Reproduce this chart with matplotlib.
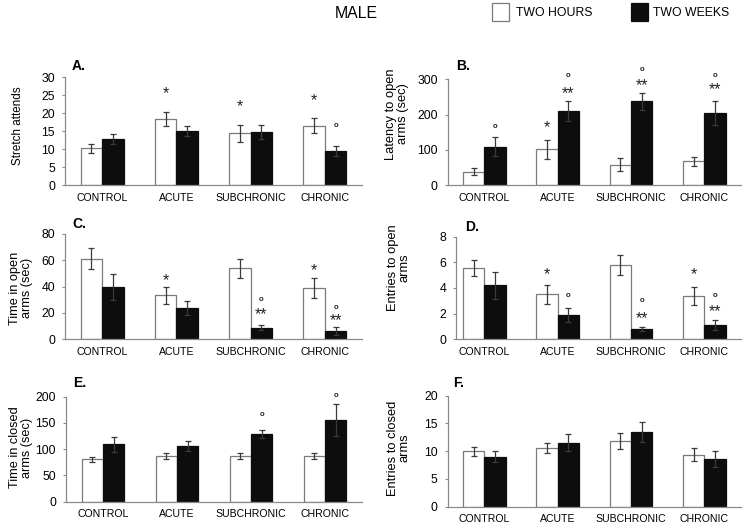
import matplotlib
matplotlib.use("Agg")
import matplotlib.pyplot as plt
from matplotlib.patches import Rectangle
import numpy as np

plt.rcParams['font.family'] = ['Liberation Sans', 'DejaVu Sans']

categories = ["CONTROL", "ACUTE", "SUBCHRONIC", "CHRONIC"]
series_names = ["TWO HOURS", "TWO WEEKS"]

# Panel A: Stretch attends
a_hours = [10.2, 18.4, 14.4, 16.6]
a_hours_err = [1.2, 1.9, 2.3, 2.0]
a_weeks = [12.8, 15.1, 14.8, 9.6]
a_weeks_err = [1.4, 1.5, 1.9, 1.4]
# Panel B: Latency to open arms
b_hours = [37, 101, 58, 67]
b_hours_err = [10, 28, 18, 12]
b_weeks = [109, 211, 237, 203]
b_weeks_err = [26, 28, 25, 34]
# Panel C: Time in open arms
c_hours = [61.3, 33.4, 53.9, 39.0]
c_hours_err = [7.8, 6.6, 7.1, 7.3]
c_weeks = [39.7, 23.8, 8.9, 6.6]
c_weeks_err = [9.6, 5.6, 2.0, 3.0]
# Panel D: Entries to open arms
d_hours = [5.58, 3.51, 5.77, 3.38]
d_hours_err = [0.62, 0.73, 0.78, 0.73]
d_weeks = [4.21, 1.87, 0.78, 1.12]
d_weeks_err = [1.06, 0.55, 0.15, 0.40]
# Panel E: Time in closed arms
e_hours = [80.6, 87.5, 86.9, 87.0]
e_hours_err = [5, 6, 5, 5]
e_weeks = [109, 105.6, 128.8, 155.6]
e_weeks_err = [14, 9.4, 8, 30]
# Panel F: Entries to closed arms
f_hours = [9.97, 10.6, 11.8, 9.4]
f_hours_err = [0.85, 0.85, 1.45, 1.1]
f_weeks = [9.0, 11.5, 13.45, 8.65]
f_weeks_err = [0.95, 1.55, 1.75, 1.45]

# significance marks: (category index, series index, text, y in data units)
a_marks = [(1, 0, "*", 25.8), (2, 0, "*", 22.1), (3, 0, "*", 23.8), (3, 1, "o", 16.5)]
b_marks = [(0, 1, "o", 167), (1, 0, "*", 167), (1, 1, "**", 262), (1, 1, "o", 312),
           (2, 1, "**", 286), (2, 1, "o", 328), (3, 1, "**", 274), (3, 1, "o", 312)]
c_marks = [(1, 0, "*", 45.6), (2, 1, "**", 19.7), (2, 1, "o", 29.9),
           (3, 0, "*", 52.7), (3, 1, "**", 15.2), (3, 1, "o", 24.0)]
d_marks = [(1, 0, "*", 5.1), (1, 1, "o", 3.45), (2, 1, "**", 1.7), (2, 1, "o", 3.0),
           (3, 0, "*", 5.1), (3, 1, "**", 2.2), (3, 1, "o", 3.4)]
e_marks = [(2, 1, "o", 167), (3, 1, "o", 203)]
f_marks = []

W, H = 747, 526
fig = plt.figure(figsize=(W / 100, H / 100), dpi=100)

def rect(l, r, t, b):
    return [l / W, 1 - b / H, (r - l) / W, (b - t) / H]

panels = [
    dict(letter="A.", lab="Stretch attends", rect=rect(65, 362, 77.5, 185), ymax=30, step=5,
         h=a_hours, he=a_hours_err, w=a_weeks, we=a_weeks_err, marks=a_marks,
         xl=-0.5, lpos=(72, 70), labx=24, laby=0.553, labfs=8.4),
    dict(letter="B.", lab="Latency to open\narms (sec)", rect=rect(447.7, 741, 79.3, 185), ymax=300, step=100,
         h=b_hours, he=b_hours_err, w=b_weeks, we=b_weeks_err, marks=b_marks,
         xl=-0.5, lpos=(456, 70), labx=409, laby=0.672, labfs=9.3),
    dict(letter="C.", lab="Time in open\narms (sec)", rect=rect(65, 362, 234, 339.3), ymax=80, step=20,
         h=c_hours, he=c_hours_err, w=c_weeks, we=c_weeks_err, marks=c_marks,
         xl=-0.5, lpos=(72.7, 228.3), labx=33, laby=0.487, labfs=9.2),
    dict(letter="D.", lab="Entries to open\narms", rect=rect(456, 741, 236.7, 339.3), ymax=8, step=2,
         h=d_hours, he=d_hours_err, w=d_weeks, we=d_weeks_err, marks=d_marks,
         xl=-0.386, lpos=(465, 230.7), labx=411, laby=0.70, labfs=9.3),
    dict(letter="E.", lab="Time in closed\narms (sec)", rect=rect(66, 362, 396.7, 501.7), ymax=200, step=50,
         h=e_hours, he=e_hours_err, w=e_weeks, we=e_weeks_err, marks=e_marks,
         xl=-0.5, lpos=(72.7, 386.7), labx=33, laby=0.516, labfs=9.2),
    dict(letter="F.", lab="Entries to closed\narms", rect=rect(447.7, 741, 395.7, 506.7), ymax=20, step=5,
         h=f_hours, he=f_hours_err, w=f_weeks, we=f_weeks_err, marks=f_marks,
         xl=-0.5, lpos=(453.3, 386.7), labx=411, laby=0.529, labfs=9.3),
]

bw = 0.29
spine_c = "#8a8a8a"
err_c = "#3a3a3a"
x = np.arange(len(categories))

for p in panels:
    ax = fig.add_axes(p["rect"])
    ax.bar(x - bw / 2, p["h"], bw, color="white", edgecolor="#7a7a7a", linewidth=0.9, zorder=2)
    ax.bar(x + bw / 2, p["w"], bw, color="#0d0d0d", edgecolor="#0d0d0d", linewidth=0.9, zorder=2)
    ax.errorbar(x - bw / 2, p["h"], yerr=p["he"], fmt="none", ecolor=err_c,
                elinewidth=0.9, capsize=2.4, capthick=0.9, zorder=3)
    ax.errorbar(x + bw / 2, p["w"], yerr=p["we"], fmt="none", ecolor=err_c,
                elinewidth=0.9, capsize=2.4, capthick=0.9, zorder=3)
    for ci, si, txt, yv in p["marks"]:
        xx = ci + (si - 0.5) * bw
        if txt == "o":
            ax.text(xx, yv, "o", ha="center", va="center", fontsize=5.6, fontweight="bold",
                    color="#222222", clip_on=False)
        else:
            ax.text(xx, yv - 0.01 * p["ymax"], txt, ha="center", va="center", fontsize=11.5,
                    color="#222222", clip_on=False)
    ax.set_xlim(p["xl"], 3.5)
    ax.set_ylim(0, p["ymax"])
    ax.set_yticks(np.arange(0, p["ymax"] + p["step"] / 2, p["step"]))
    ax.set_xticks(x)
    ax.set_xticklabels(categories, fontsize=7.6)
    ax.tick_params(axis="x", length=0, pad=5.5)
    ax.tick_params(axis="y", length=2.2, width=0.8, color=spine_c, pad=5, labelsize=8.8)
    for s in ["top", "right"]:
        ax.spines[s].set_visible(False)
    for s in ["left", "bottom"]:
        ax.spines[s].set_color(spine_c)
        ax.spines[s].set_linewidth(0.9)
    ax.set_ylabel(p["lab"], fontsize=p["labfs"], linespacing=1.05)
    l, b, w, h = p["rect"]
    axl_px = l * W
    axw_px = w * W
    ax.yaxis.set_label_coords((p["labx"] - axl_px) / axw_px, p["laby"])
    fig.text(p["lpos"][0] / W, 1 - p["lpos"][1] / H, p["letter"], fontsize=10,
             fontweight="bold", va="baseline", ha="left")

# Title and legend
fig.text(356.5 / W, 1 - 13 / H, "MALE", fontsize=11.4, ha="center", va="center")
fig.patches.append(Rectangle((492.3 / W, 1 - 21 / H), 17 / W, 17.5 / H, transform=fig.transFigure,
                             facecolor="white", edgecolor="#7a7a7a", linewidth=0.9))
fig.text(516 / W, 1 - 12.5 / H, series_names[0], fontsize=8.8, ha="left", va="center")
fig.patches.append(Rectangle((631 / W, 1 - 21 / H), 17 / W, 17.5 / H, transform=fig.transFigure,
                             facecolor="#0d0d0d", edgecolor="#0d0d0d", linewidth=0.9))
fig.text(653.3 / W, 1 - 12.5 / H, series_names[1], fontsize=8.8, ha="left", va="center")

fig.savefig("out.png", dpi=100)
